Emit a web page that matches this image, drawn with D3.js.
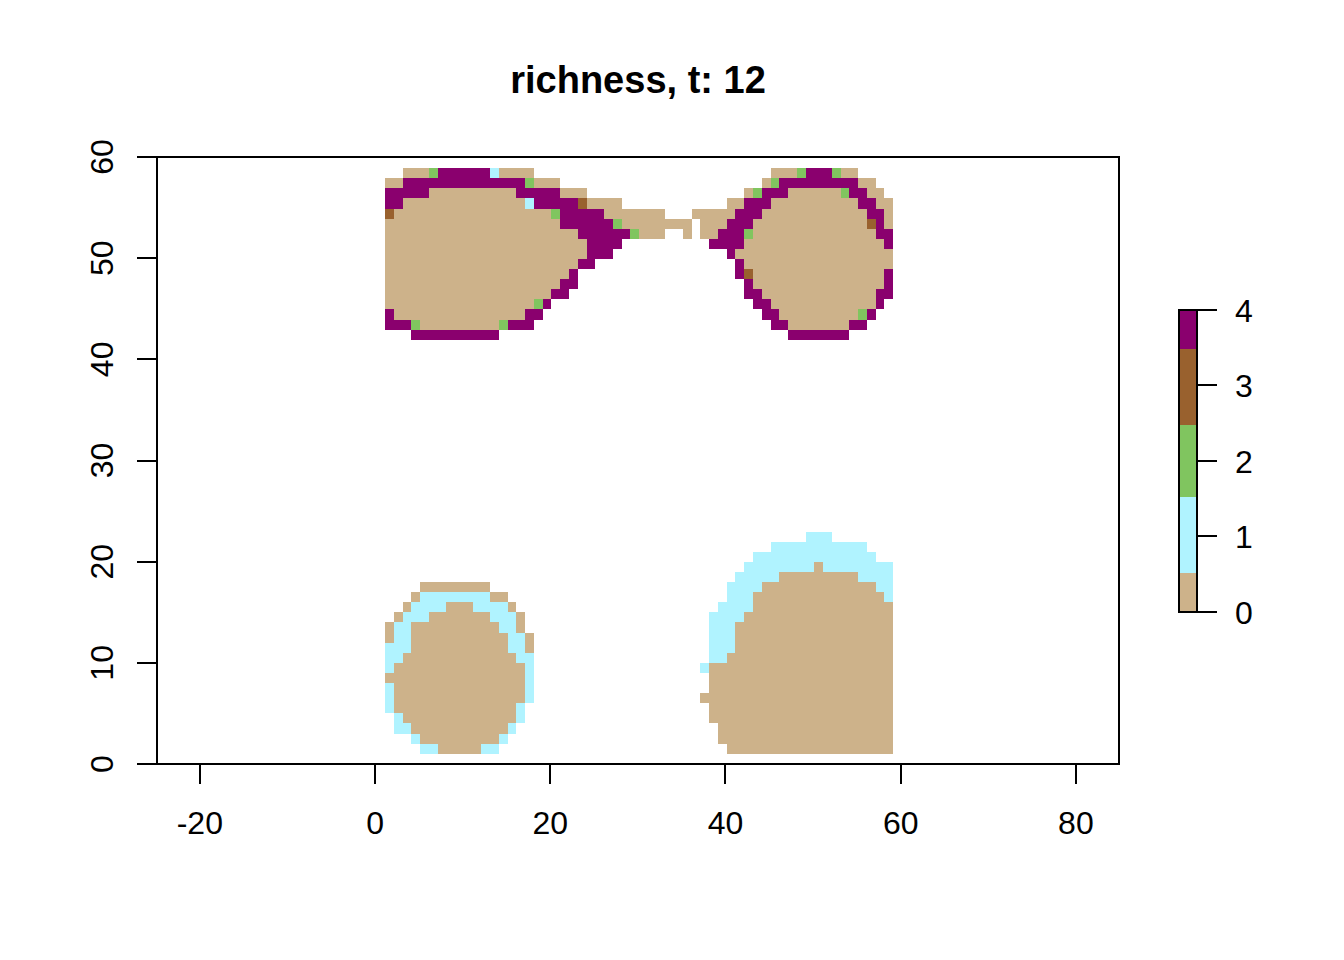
<!DOCTYPE html>
<html>
<head>
<meta charset="utf-8">
<script src="https://d3js.org/d3.v7.min.js"></script>
<style>
  body { margin: 0; background: #fff; }
  text { font-family: "Liberation Sans", Arial, sans-serif; fill: #000; }
</style>
</head>
<body>
<div id="vis"></div>
<script>
// raster, each run is [row from top, first col, last col, richness]
const glassesLeft = [
  [0,2,4,0],[0,5,5,2],[0,6,11,4],[0,12,12,1],[0,13,16,0],
  [1,0,1,0],[1,2,15,4],[1,16,16,2],[1,17,19,0],
  [2,0,4,4],[2,5,14,0],[2,15,19,4],[2,20,22,0],
  [3,0,1,4],[3,2,15,0],[3,16,16,1],[3,17,21,4],[3,22,22,3],[3,23,26,0],
  [4,0,0,3],[4,1,18,0],[4,19,19,2],[4,20,24,4],[4,25,31,0],
  [5,0,19,0],[5,20,25,4],[5,26,26,2],[5,27,34,0],
  [6,0,21,0],[6,22,27,4],[6,28,28,2],[6,29,31,0],[6,34,34,0],
  [7,0,22,0],[7,23,26,4],
  [8,0,22,0],[8,23,25,4],
  [9,0,21,0],[9,22,23,4],
  [10,0,20,0],[10,21,21,4],
  [11,0,19,0],[11,20,21,4],
  [12,0,18,0],[12,19,20,4],
  [13,0,16,0],[13,17,17,2],[13,18,18,4],
  [14,0,0,4],[14,1,15,0],[14,16,17,4],
  [15,0,2,4],[15,3,3,2],[15,4,12,0],[15,13,13,2],[15,14,16,4],
  [16,3,12,4]
];
const glassesRight = [
  [0,44,46,0],[0,47,47,2],[0,48,50,4],[0,51,51,2],[0,52,53,0],
  [1,43,43,0],[1,44,44,2],[1,45,53,4],[1,54,55,0],
  [2,41,41,0],[2,42,42,2],[2,43,45,4],[2,46,51,0],[2,52,52,2],[2,53,54,4],[2,55,56,0],
  [3,39,40,0],[3,41,43,4],[3,44,53,0],[3,54,55,4],[3,56,57,0],
  [4,35,39,0],[4,40,42,4],[4,43,54,0],[4,55,56,4],[4,57,57,0],
  [5,36,38,0],[5,39,41,4],[5,42,54,0],[5,55,55,3],[5,56,56,4],[5,57,57,0],
  [6,36,37,0],[6,38,40,4],[6,41,41,2],[6,42,55,0],[6,56,57,4],
  [7,37,40,4],[7,41,56,0],[7,57,57,4],
  [8,39,39,4],[8,40,57,0],
  [9,40,40,4],[9,41,57,0],
  [10,40,40,4],[10,41,41,3],[10,42,56,0],[10,57,57,4],
  [11,41,41,4],[11,42,56,0],[11,57,57,4],
  [12,41,42,4],[12,43,55,0],[12,56,57,4],
  [13,42,43,4],[13,44,55,0],[13,56,56,4],
  [14,43,44,4],[14,45,53,0],[14,54,54,2],[14,55,55,4],
  [15,44,45,4],[15,46,52,0],[15,53,54,4],
  [16,46,52,4]
];
const blobLeft = [
  [41,4,11,0],
  [42,3,3,0],[42,4,11,1],[42,12,13,0],
  [43,2,2,0],[43,3,6,1],[43,7,9,0],[43,10,13,1],[43,14,14,0],
  [44,1,1,0],[44,2,4,1],[44,5,11,0],[44,12,14,1],[44,15,15,0],
  [45,0,0,0],[45,1,2,1],[45,3,12,0],[45,13,14,1],[45,15,15,0],
  [46,0,0,0],[46,1,2,1],[46,3,13,0],[46,14,15,1],[46,16,16,0],
  [47,0,2,1],[47,3,13,0],[47,14,15,1],[47,16,16,0],
  [48,0,1,1],[48,2,14,0],[48,15,16,1],
  [49,0,0,1],[49,1,15,0],[49,16,16,1],
  [50,0,15,0],[50,16,16,1],
  [51,0,0,1],[51,1,15,0],[51,16,16,1],
  [52,0,0,1],[52,1,15,0],[52,16,16,1],
  [53,0,0,1],[53,1,14,0],[53,15,15,1],
  [54,1,1,1],[54,2,14,0],[54,15,15,1],
  [55,1,2,1],[55,3,13,0],[55,14,14,1],
  [56,3,3,1],[56,4,12,0],[56,13,13,1],
  [57,4,5,1],[57,6,10,0],[57,11,12,1]
];
const blobRight = [
  [36,48,50,1],
  [37,44,54,1],
  [38,42,55,1],
  [39,41,48,1],[39,49,49,0],[39,50,57,1],
  [40,40,44,1],[40,45,53,0],[40,54,57,1],
  [41,39,42,1],[41,43,55,0],[41,56,57,1],
  [42,39,41,1],[42,42,56,0],[42,57,57,1],
  [43,38,41,1],[43,42,57,0],
  [44,37,40,1],[44,41,57,0],
  [45,37,39,1],[45,40,57,0],
  [46,37,39,1],[46,40,57,0],
  [47,37,39,1],[47,40,57,0],
  [48,37,38,1],[48,39,57,0],
  [49,36,36,1],[49,37,57,0],
  [50,37,57,0],
  [51,37,57,0],
  [52,36,57,0],
  [53,37,57,0],
  [54,37,57,0],
  [55,38,57,0],
  [56,38,57,0],
  [57,39,57,0]
];
const richnessColors = ["#cdb28a", "#b0f3ff", "#80c55f", "#99612e", "#8a006e"];
const xTicks = [-20, 0, 20, 40, 60, 80];
const yTicks = [0, 10, 20, 30, 40, 50, 60];
const legendTicks = [0, 1, 2, 3, 4];
const legendBreaks = [0, 0.51, 1.52, 2.47, 3.48, 4];
const titleText = "richness, t: 12";

const width = 1344;
const height = 960;
const box = {left: 157, right: 1119, top: 157, bottom: 764};
const gridLeft = 1.14;
const gridTop = 58.9;
const rowStep = 0.998;
const labelSize = 32;
const titleSize = 38;

const xScale = d3.scaleLinear().domain([-24.89, 84.92]).range([box.left, box.right]);
const yScale = d3.scaleLinear().domain([0, 60]).range([box.bottom, box.top]);
const legendScale = d3.scaleLinear().domain([0, 4]).range([611.5, 309.5]);

const svg = d3.select("#vis").append("svg").attr("width", width).attr("height", height);

// one rect per raster cell
const cells = [glassesLeft, glassesRight, blobLeft, blobRight].flat()
  .flatMap(([row, first, last, value]) => d3.range(first, last + 1).map(col => ({row, col, value})));

const cellX = col => Math.round(xScale(gridLeft + col));
const cellY = row => Math.round(yScale(gridTop - row * rowStep));

svg.append("g").attr("class", "raster").selectAll("rect").data(cells).enter().append("rect")
  .attr("x", d => cellX(d.col))
  .attr("y", d => cellY(d.row))
  .attr("width", d => cellX(d.col + 1) - cellX(d.col))
  .attr("height", d => cellY(d.row + 1) - cellY(d.row))
  .attr("fill", d => richnessColors[d.value])
  .attr("shape-rendering", "crispEdges");

svg.append("rect").attr("x", box.left).attr("y", box.top)
  .attr("width", box.right - box.left).attr("height", box.bottom - box.top)
  .attr("fill", "none").attr("stroke", "#000").attr("stroke-width", 2)
  .attr("shape-rendering", "crispEdges");

const styleAxis = g => {
  g.selectAll("path, line").attr("stroke", "#000").attr("stroke-width", 2).attr("shape-rendering", "crispEdges");
  g.selectAll("text").style("font-size", labelSize + "px").attr("fill", "#000");
};

const xAxis = d3.axisBottom(xScale).tickValues(xTicks).tickSize(20).tickSizeOuter(0).tickPadding(27).offset(0).tickFormat(d => String(d));
svg.append("g").attr("transform", `translate(0, ${box.bottom})`).call(xAxis).call(styleAxis);

const yAxis = d3.axisLeft(yScale).tickValues(yTicks).tickSize(20).tickSizeOuter(0).offset(0).tickFormat(d => String(d));
const yAxisG = svg.append("g").attr("transform", `translate(${box.left}, 0)`).call(yAxis).call(styleAxis);
yAxisG.selectAll("text")
  .attr("dy", 0).attr("x", 0).attr("y", 0)
  .attr("text-anchor", "middle")
  .attr("transform", "translate(-44, 0) rotate(-90)");

svg.append("text").attr("x", 638).attr("y", 93).attr("text-anchor", "middle")
  .attr("font-weight", "bold").style("font-size", titleSize + "px").text(titleText);

// legend
const legendX = 1179;
const legendW = 18;
svg.append("g").selectAll("rect").data(d3.pairs(legendBreaks)).enter().append("rect")
  .attr("x", legendX).attr("width", legendW)
  .attr("y", d => legendScale(d[1]))
  .attr("height", d => legendScale(d[0]) - legendScale(d[1]))
  .attr("fill", (d, i) => richnessColors[i])
  .attr("shape-rendering", "crispEdges");
svg.append("rect").attr("x", legendX).attr("y", legendScale(4)).attr("width", legendW)
  .attr("height", legendScale(0) - legendScale(4))
  .attr("fill", "none").attr("stroke", "#000").attr("stroke-width", 2).attr("shape-rendering", "crispEdges");

const legendAxis = d3.axisRight(legendScale).tickValues(legendTicks).tickSize(20).tickSizeOuter(0).tickPadding(18).offset(0).tickFormat(d => String(d));
svg.append("g").attr("transform", `translate(${legendX + legendW}, 0)`).call(legendAxis).call(styleAxis)
  .selectAll("text").attr("dy", "12px");
</script>
</body>
</html>
